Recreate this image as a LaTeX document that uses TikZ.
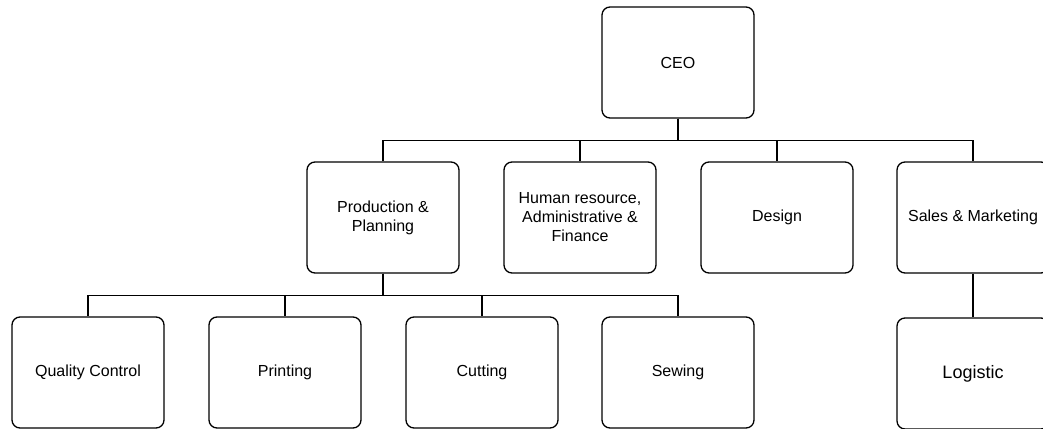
\documentclass[tikz,border=0pt]{standalone}
\usepackage{fontspec}
\setmainfont{Liberation Sans}
\usetikzlibrary{positioning}

\tikzset{
    unit/.style={draw, line width=1.3pt, rounded corners=8pt, minimum width=152pt,
        minimum height=111pt, inner sep=0pt, align=center,
        font=\fontsize{16}{19}\selectfont},
    link/.style={line width=1.3pt}
}

\begin{document}
\begin{tikzpicture}[x=1pt, y=-1pt]
    \useasboundingbox (0, 0) rectangle (1043, 428);
    \clip (0, 0) rectangle (1043, 428);

    % top
    \node[unit] (ceo) at (678, 62.5) {CEO};

    % departments
    \node[unit] (prod) at (383, 217.5) {Production \&\\Planning};
    \node[unit] (hr) at (580, 217.5) {Human resource,\\Administrative \&\\Finance};
    \node[unit] (design) at (777, 217.5) {Design};
    \node[unit] (sales) at (973, 217.5) {Sales \& Marketing};

    % sections
    \node[unit] (qc) at (88, 372.5) {Quality Control};
    \node[unit] (print) at (285, 372.5) {Printing};
    \node[unit] (cut) at (482, 372.5) {Cutting};
    \node[unit] (sew) at (678, 372.5) {Sewing};
    \node[unit, font=\fontsize{18}{21}\selectfont] (logi) at (973, 373.5) {Logistic};

    \foreach \n in {prod, hr, design, sales}
        \draw[link] (ceo.south) -- ++(0, 22) -| (\n.north);
    \foreach \n in {qc, print, cut, sew}
        \draw[link] (prod.south) -- ++(0, 21.5) -| (\n.north);
    \draw[link] (sales.south) -- (logi.north);
\end{tikzpicture}
\end{document}
